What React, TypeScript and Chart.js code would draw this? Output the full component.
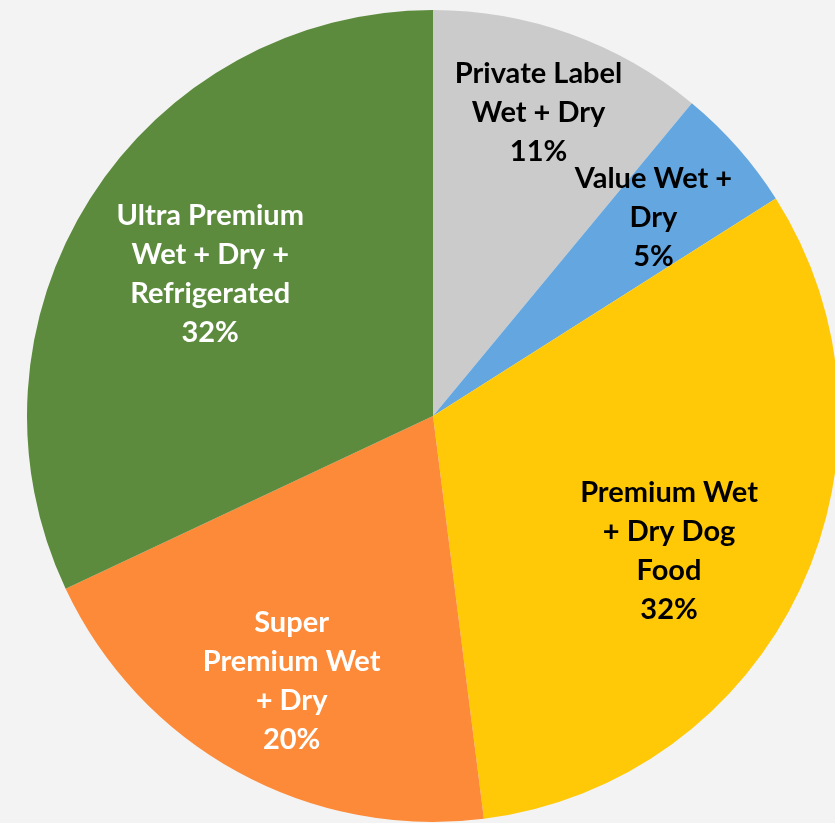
import React, { useEffect, useRef } from "react";
import { Chart, registerables } from "chart.js";

Chart.register(...registerables);

const categories = [
  "Private Label Wet + Dry",
  "Value Wet + Dry",
  "Premium Wet + Dry Dog Food",
  "Super Premium Wet + Dry",
  "Ultra Premium Wet + Dry + Refrigerated",
];
const shares = [11, 5, 32, 20, 32];
const labelLines = [
  ["Private Label", "Wet + Dry"],
  ["Value Wet +", "Dry"],
  ["Premium Wet", "+ Dry Dog", "Food"],
  ["Super", "Premium Wet", "+ Dry"],
  ["Ultra Premium", "Wet + Dry +", "Refrigerated"],
];
const sliceColors = ["#cbcbcb", "#63a6e0", "#ffc907", "#fd8a38", "#5d8b3e"];
const textColors = ["#000000", "#000000", "#000000", "#ffffff", "#ffffff"];
// label placement: fraction along slice angle, fraction of radius
const labelAngleFrac = [0.485, 0.47, 0.54, 0.49, 0.5];
const labelRadiusFrac = [0.79, 0.73, 0.67, 0.74, 0.65];

const labelPlugin = {
  id: "sliceLabels",
  afterDatasetsDraw(chart: any) {
    const meta = chart.getDatasetMeta(0);
    const ctx = chart.ctx;
    const total = shares.reduce((a, b) => a + b, 0);
    ctx.save();
    ctx.font = "bold 29px Lato";
    ctx.textAlign = "center";
    ctx.textBaseline = "middle";
    const lh = 39;
    meta.data.forEach((arc: any, i: number) => {
      const p = arc.getProps(["x", "y", "startAngle", "endAngle", "outerRadius"], true);
      const a = p.startAngle + (p.endAngle - p.startAngle) * labelAngleFrac[i];
      const r = p.outerRadius * labelRadiusFrac[i];
      const cx = p.x + Math.cos(a) * r;
      const cy = p.y + Math.sin(a) * r;
      const lines = [...labelLines[i], Math.round((shares[i] / total) * 100) + "%"];
      const top = cy - ((lines.length - 1) * lh) / 2;
      ctx.fillStyle = textColors[i];
      lines.forEach((t, j) => ctx.fillText(t, cx, top + j * lh));
    });
    ctx.restore();
  },
};

export default function App() {
  const ref = useRef<HTMLCanvasElement>(null);
  useEffect(() => {
    const chart = new Chart(ref.current!, {
      type: "pie",
      data: {
        labels: categories,
        datasets: [
          {
            data: shares,
            backgroundColor: sliceColors,
            borderWidth: 0,
          },
        ],
      },
      options: {
        animation: false,
        responsive: false,
        devicePixelRatio: 1,
        layout: { padding: 10 },
        plugins: {
          legend: { display: false },
          tooltip: { enabled: false },
        },
      },
      plugins: [labelPlugin],
    });
    return () => chart.destroy();
  }, []);
  return (
    <div
      style={{
        position: "fixed",
        left: 0,
        top: 0,
        width: 835,
        height: 823,
        overflow: "hidden",
        background: "#f3f3f3",
      }}
    >
      <canvas ref={ref} width={866} height={832} style={{ display: "block" }} />
    </div>
  );
}
